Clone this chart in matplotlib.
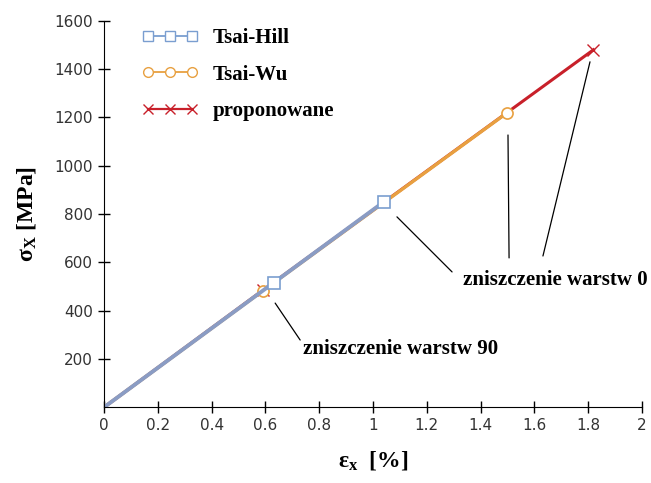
import matplotlib
matplotlib.use("Agg")
import matplotlib.pyplot as plt
from matplotlib.lines import Line2D

# strain [%] and stress [MPa] along each failure-criterion path
hill_eps = [0.0, 0.63, 1.04]
hill_sig = [0.0, 515.0, 850.0]
wu_eps = [0.0, 0.59, 1.50]
wu_sig = [0.0, 482.0, 1220.0]
prop_eps = [0.0, 0.59, 1.82]
prop_sig = [0.0, 484.0, 1480.0]

series_names = ["Tsai-Hill", "Tsai-Wu", "proponowane"]
x_ticks = [0, 0.2, 0.4, 0.6, 0.8, 1, 1.2, 1.4, 1.6, 1.8, 2]
x_ticklabels = ["0", "0.2", "0.4", "0.6", "0.8", "1", "1.2", "1.4", "1.6", "1.8", "2"]
y_ticks = [200, 400, 600, 800, 1000, 1200, 1400, 1600]

serif = "Liberation Serif"
c_hill, c_hill_m = "#8a9cc4", "#7a9ed0"
c_wu = "#e8a040"
c_prop = "#c8202a"

fig = plt.figure(figsize=(6.51, 4.83), dpi=100)
ax = fig.add_axes([0.16, 0.157, 0.826, 0.80])

ax.plot(prop_eps, prop_sig, color=c_prop, lw=2.2, marker="x", ms=8, mew=1.0,
        markevery=[1, 2])
ax.plot(wu_eps, wu_sig, color=c_wu, lw=2.4, marker="o", ms=8, mfc="white",
        mec=c_wu, mew=1.2, markevery=[1, 2])
ax.plot(hill_eps, hill_sig, color=c_hill, lw=2.8, marker="s", ms=8, mfc="white",
        mec=c_hill_m, mew=1.2, markevery=[1, 2])

ax.set_xlim(0, 2)
ax.set_ylim(0, 1600)
ax.set_xticks(x_ticks)
ax.set_xticklabels(x_ticklabels)
ax.set_yticks(y_ticks)
ax.spines["top"].set_visible(False)
ax.spines["right"].set_visible(False)
ax.tick_params(direction="inout", length=9, width=1, labelsize=11, colors="black")
for lab in ax.get_xticklabels() + ax.get_yticklabels():
    lab.set_fontfamily("DejaVu Sans")
    lab.set_color("#333333")
ax.tick_params(axis="x", pad=3)

ax.set_xlabel(r"$\mathregular{\varepsilon_x}$  [%]", fontsize=17, fontfamily=serif,
              fontweight="bold", labelpad=12)
ax.set_ylabel(r"$\mathregular{\sigma_X}$ [MPa]", fontsize=17, fontfamily=serif,
              fontweight="bold", labelpad=12)

handles = [
    Line2D([], [], color=c_hill_m, lw=1.3, marker="s", ms=7, mfc="white", mec=c_hill_m),
    Line2D([], [], color=c_wu, lw=1.3, marker="o", ms=7, mfc="white", mec=c_wu),
    Line2D([], [], color=c_prop, lw=1.6, marker="x", ms=7, mec=c_prop),
]
ax.legend(handles, series_names, loc="upper left", bbox_to_anchor=(0.035, 1.03),
          frameon=False, numpoints=3, handlelength=2.7, labelspacing=0.8,
          handletextpad=0.7,
          prop={"family": serif, "weight": "bold", "size": 15})

line_kw = dict(arrowstyle="-", color="black", lw=0.9, shrinkA=0, shrinkB=0)
ax.annotate("", xy=(0.636, 431), xytext=(0.729, 278), arrowprops=line_kw)
ax.text(0.74, 240, "zniszczenie warstw 90", fontsize=15, fontfamily=serif,
        fontweight="bold", va="center", ha="left")

ax.annotate("", xy=(1.089, 788), xytext=(1.294, 560), arrowprops=line_kw)
ax.annotate("", xy=(1.502, 1127), xytext=(1.506, 618), arrowprops=line_kw)
ax.annotate("", xy=(1.807, 1430), xytext=(1.632, 626), arrowprops=line_kw)
ax.text(1.335, 526, "zniszczenie warstw 0", fontsize=15, fontfamily=serif,
        fontweight="bold", va="center", ha="left")

fig.savefig("out.png", dpi=100)
